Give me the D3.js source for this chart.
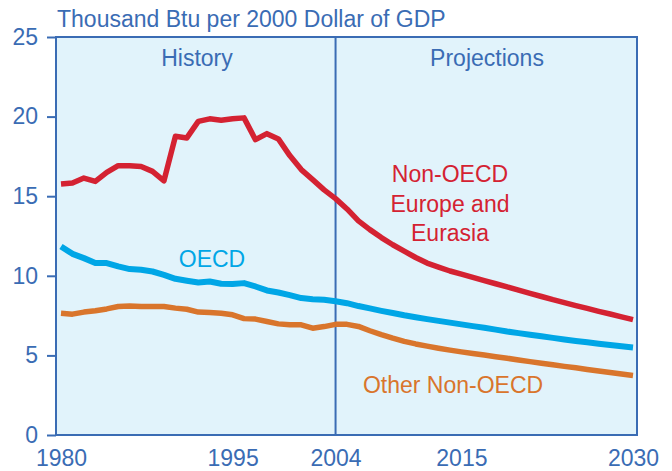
<!DOCTYPE html>
<html>
<head>
<meta charset="utf-8">
<script src="https://cdn.jsdelivr.net/npm/d3@7"></script>
<style>
    body { margin: 0; background: #fff; }
    svg { display: block; font-family: "Liberation Sans", Arial, sans-serif; }
</style>
</head>
<body>
<svg></svg>
<script>
const years = d3.range(1980, 2031);

// history 1980-2004, projections 2005-2030
const nonOecdEurope = [
    15.77, 15.83, 16.14, 15.93, 16.5, 16.92, 16.92, 16.87, 16.56, 15.97,
    18.76, 18.66, 19.7, 19.86, 19.77, 19.86, 19.92, 18.55, 18.93, 18.6,
    17.55, 16.67, 16.04, 15.4, 14.85,
    14.2, 13.45, 12.9, 12.4, 11.95, 11.55, 11.15, 10.8, 10.55, 10.3,
    10.1, 9.9, 9.7, 9.5, 9.3, 9.1, 8.9, 8.7, 8.5, 8.32,
    8.13, 7.95, 7.77, 7.6, 7.42, 7.25
];
const oecd = [
    11.84, 11.38, 11.11, 10.8, 10.8, 10.59, 10.42, 10.38, 10.27, 10.06,
    9.81, 9.69, 9.58, 9.64, 9.5, 9.48, 9.54, 9.33, 9.08, 8.95,
    8.79, 8.6, 8.53, 8.49, 8.4,
    8.28, 8.1, 7.95, 7.8, 7.66, 7.52, 7.4, 7.28, 7.17, 7.06,
    6.95, 6.84, 6.74, 6.62, 6.5, 6.4, 6.3, 6.2, 6.1, 6.0,
    5.91, 5.82, 5.73, 5.65, 5.57, 5.5
];
const otherNonOecd = [
    7.65, 7.59, 7.72, 7.8, 7.92, 8.07, 8.11, 8.07, 8.07, 8.07,
    7.97, 7.9, 7.72, 7.69, 7.65, 7.55, 7.31, 7.28, 7.13, 6.98,
    6.92, 6.92, 6.71, 6.81, 6.95,
    6.95, 6.82, 6.55, 6.3, 6.08, 5.88, 5.72, 5.58, 5.45, 5.33,
    5.22, 5.12, 5.02, 4.92, 4.82, 4.71, 4.61, 4.51, 4.41, 4.31,
    4.22, 4.12, 4.02, 3.93, 3.83, 3.74
];
const yTicks = [0, 5, 10, 15, 20, 25];
const xTicks = [1980, 1995, 2004, 2015, 2030];
const splitYear = 2004;

function drawChart() {
    const width = 672;
    const height = 471;
    const left = 56, right = 637, top = 37, bottom = 435;
    const axisColor = '#3a6cb4';

    const svg = d3.select('svg')
        .attr('width', width)
        .attr('height', height);

    const xScale = d3.scaleLinear()
        .domain([1980, 2030])
        .range([61, 633]);
    const yScale = d3.scaleLinear()
        .domain([0, 25])
        .range([bottom, top]);

    svg.append('rect')
        .attr('x', left)
        .attr('y', top)
        .attr('width', right - left)
        .attr('height', bottom - top)
        .attr('fill', '#e1f3fb')
        .attr('stroke', axisColor)
        .attr('stroke-width', 2);

    svg.append('line')
        .attr('x1', xScale(splitYear))
        .attr('x2', xScale(splitYear))
        .attr('y1', top)
        .attr('y2', bottom)
        .attr('stroke', axisColor)
        .attr('stroke-width', 2);

    const yAxis = svg.append('g')
        .attr('transform', `translate(${left}, 0)`)
        .call(d3.axisLeft(yScale)
            .tickValues(yTicks)
            .tickSize(9)
            .tickSizeOuter(0)
            .tickPadding(9));
    yAxis.select('.domain').remove();
    yAxis.selectAll('line').attr('stroke', axisColor).attr('stroke-width', 2);
    yAxis.selectAll('text')
        .attr('fill', axisColor)
        .style('font-size', '23px');

    const xAxis = svg.append('g')
        .attr('transform', `translate(0, ${bottom})`)
        .call(d3.axisBottom(xScale)
            .tickValues(xTicks)
            .tickFormat(d3.format('d'))
            .tickSize(0)
            .tickPadding(15));
    xAxis.select('.domain').remove();
    xAxis.selectAll('text')
        .attr('fill', axisColor)
        .style('font-size', '23px');

    const series = [
        { values: nonOecdEurope, color: '#d42232', width: 5.5 },
        { values: oecd, color: '#00a6e6', width: 6 },
        { values: otherNonOecd, color: '#d9752c', width: 5.5 }
    ];

    const line = d3.line()
        .x((d, i) => xScale(years[i]))
        .y(d => yScale(d));

    svg.selectAll('.series')
        .data(series)
        .enter()
        .append('path')
        .attr('class', 'series')
        .attr('d', s => line(s.values))
        .attr('fill', 'none')
        .attr('stroke', s => s.color)
        .attr('stroke-width', s => s.width)
        .attr('stroke-linejoin', 'round');

    svg.append('text')
        .attr('x', 57)
        .attr('y', 27)
        .attr('fill', axisColor)
        .style('font-size', '23px')
        .text('Thousand Btu per 2000 Dollar of GDP');

    svg.append('text')
        .attr('x', 197)
        .attr('y', 66)
        .attr('text-anchor', 'middle')
        .attr('fill', axisColor)
        .style('font-size', '23px')
        .text('History');

    svg.append('text')
        .attr('x', 487)
        .attr('y', 66)
        .attr('text-anchor', 'middle')
        .attr('fill', axisColor)
        .style('font-size', '23px')
        .text('Projections');

    svg.append('text')
        .attr('x', 212)
        .attr('y', 267)
        .attr('text-anchor', 'middle')
        .attr('fill', '#00a6e6')
        .style('font-size', '23px')
        .text('OECD');

    const redLabel = svg.append('text')
        .attr('text-anchor', 'middle')
        .attr('fill', '#d42232')
        .style('font-size', '23px');
    ['Non-OECD', 'Europe and', 'Eurasia'].forEach((t, i) => {
        redLabel.append('tspan')
            .attr('x', 450)
            .attr('y', 182 + i * 29.5)
            .text(t);
    });

    svg.append('text')
        .attr('x', 453)
        .attr('y', 393)
        .attr('text-anchor', 'middle')
        .attr('fill', '#d9752c')
        .style('font-size', '23px')
        .text('Other Non-OECD');
}

drawChart();
</script>
</body>
</html>
